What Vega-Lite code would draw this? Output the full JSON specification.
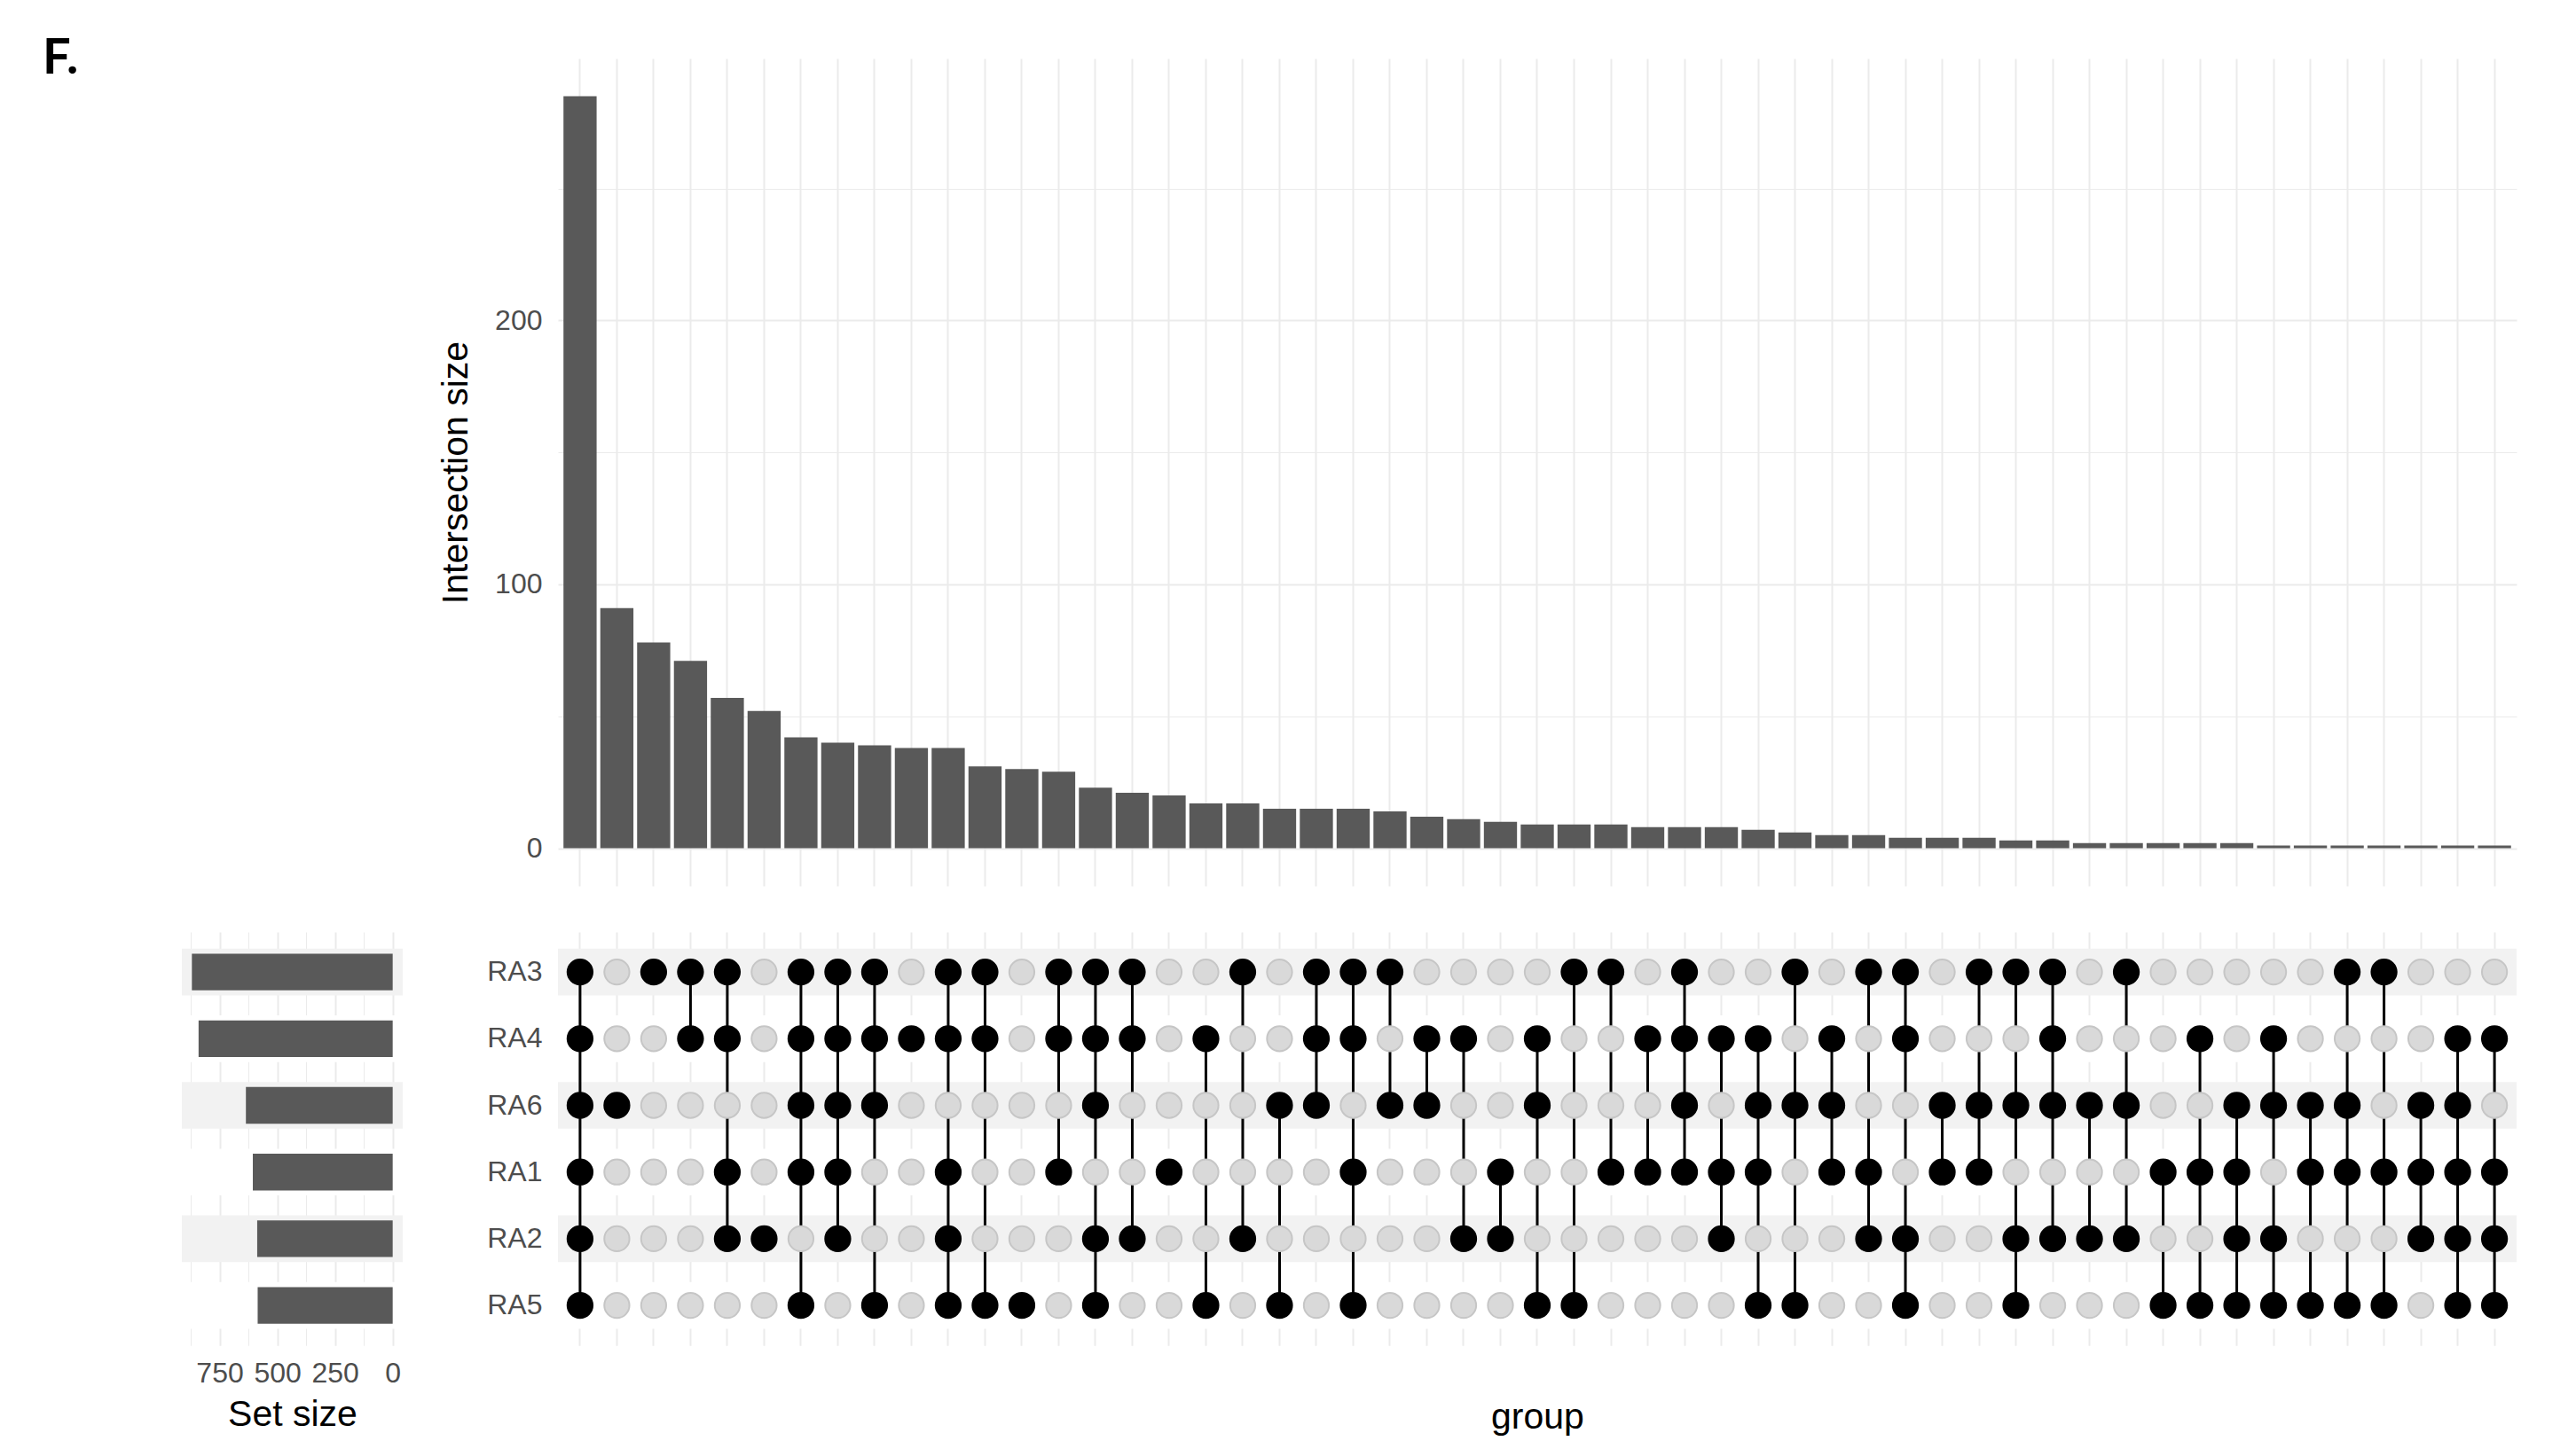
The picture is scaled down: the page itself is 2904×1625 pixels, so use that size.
{
  "$schema": "https://vega.github.io/schema/vega-lite/v6.json",
  "background": "white",
  "padding": {"left": 48, "top": 38, "right": 10, "bottom": 5},
  "config": {
    "view": {"stroke": null},
    "font": "Liberation Sans",
    "axis": {
      "domain": false,
      "ticks": false,
      "labelFont": "Liberation Sans",
      "labelFontSize": 32,
      "labelColor": "#4D4D4D",
      "titleFont": "Liberation Sans",
      "titleFontSize": 41,
      "titleFontWeight": "normal",
      "titleColor": "#000000",
      "gridColor": "#EBEBEB",
      "gridWidth": 2
    }
  },
  "datasets": {
    "inter": [
      {"id": 1, "size": 285, "RA3": 1, "RA4": 1, "RA6": 1, "RA1": 1, "RA2": 1, "RA5": 1},
      {"id": 2, "size": 91, "RA3": 0, "RA4": 0, "RA6": 1, "RA1": 0, "RA2": 0, "RA5": 0},
      {"id": 3, "size": 78, "RA3": 1, "RA4": 0, "RA6": 0, "RA1": 0, "RA2": 0, "RA5": 0},
      {"id": 4, "size": 71, "RA3": 1, "RA4": 1, "RA6": 0, "RA1": 0, "RA2": 0, "RA5": 0},
      {"id": 5, "size": 57, "RA3": 1, "RA4": 1, "RA6": 0, "RA1": 1, "RA2": 1, "RA5": 0},
      {"id": 6, "size": 52, "RA3": 0, "RA4": 0, "RA6": 0, "RA1": 0, "RA2": 1, "RA5": 0},
      {"id": 7, "size": 42, "RA3": 1, "RA4": 1, "RA6": 1, "RA1": 1, "RA2": 0, "RA5": 1},
      {"id": 8, "size": 40, "RA3": 1, "RA4": 1, "RA6": 1, "RA1": 1, "RA2": 1, "RA5": 0},
      {"id": 9, "size": 39, "RA3": 1, "RA4": 1, "RA6": 1, "RA1": 0, "RA2": 0, "RA5": 1},
      {"id": 10, "size": 38, "RA3": 0, "RA4": 1, "RA6": 0, "RA1": 0, "RA2": 0, "RA5": 0},
      {"id": 11, "size": 38, "RA3": 1, "RA4": 1, "RA6": 0, "RA1": 1, "RA2": 1, "RA5": 1},
      {"id": 12, "size": 31, "RA3": 1, "RA4": 1, "RA6": 0, "RA1": 0, "RA2": 0, "RA5": 1},
      {"id": 13, "size": 30, "RA3": 0, "RA4": 0, "RA6": 0, "RA1": 0, "RA2": 0, "RA5": 1},
      {"id": 14, "size": 29, "RA3": 1, "RA4": 1, "RA6": 0, "RA1": 1, "RA2": 0, "RA5": 0},
      {"id": 15, "size": 23, "RA3": 1, "RA4": 1, "RA6": 1, "RA1": 0, "RA2": 1, "RA5": 1},
      {"id": 16, "size": 21, "RA3": 1, "RA4": 1, "RA6": 0, "RA1": 0, "RA2": 1, "RA5": 0},
      {"id": 17, "size": 20, "RA3": 0, "RA4": 0, "RA6": 0, "RA1": 1, "RA2": 0, "RA5": 0},
      {"id": 18, "size": 17, "RA3": 0, "RA4": 1, "RA6": 0, "RA1": 0, "RA2": 0, "RA5": 1},
      {"id": 19, "size": 17, "RA3": 1, "RA4": 0, "RA6": 0, "RA1": 0, "RA2": 1, "RA5": 0},
      {"id": 20, "size": 15, "RA3": 0, "RA4": 0, "RA6": 1, "RA1": 0, "RA2": 0, "RA5": 1},
      {"id": 21, "size": 15, "RA3": 1, "RA4": 1, "RA6": 1, "RA1": 0, "RA2": 0, "RA5": 0},
      {"id": 22, "size": 15, "RA3": 1, "RA4": 1, "RA6": 0, "RA1": 1, "RA2": 0, "RA5": 1},
      {"id": 23, "size": 14, "RA3": 1, "RA4": 0, "RA6": 1, "RA1": 0, "RA2": 0, "RA5": 0},
      {"id": 24, "size": 12, "RA3": 0, "RA4": 1, "RA6": 1, "RA1": 0, "RA2": 0, "RA5": 0},
      {"id": 25, "size": 11, "RA3": 0, "RA4": 1, "RA6": 0, "RA1": 0, "RA2": 1, "RA5": 0},
      {"id": 26, "size": 10, "RA3": 0, "RA4": 0, "RA6": 0, "RA1": 1, "RA2": 1, "RA5": 0},
      {"id": 27, "size": 9, "RA3": 0, "RA4": 1, "RA6": 1, "RA1": 0, "RA2": 0, "RA5": 1},
      {"id": 28, "size": 9, "RA3": 1, "RA4": 0, "RA6": 0, "RA1": 0, "RA2": 0, "RA5": 1},
      {"id": 29, "size": 9, "RA3": 1, "RA4": 0, "RA6": 0, "RA1": 1, "RA2": 0, "RA5": 0},
      {"id": 30, "size": 8, "RA3": 0, "RA4": 1, "RA6": 0, "RA1": 1, "RA2": 0, "RA5": 0},
      {"id": 31, "size": 8, "RA3": 1, "RA4": 1, "RA6": 1, "RA1": 1, "RA2": 0, "RA5": 0},
      {"id": 32, "size": 8, "RA3": 0, "RA4": 1, "RA6": 0, "RA1": 1, "RA2": 1, "RA5": 0},
      {"id": 33, "size": 7, "RA3": 0, "RA4": 1, "RA6": 1, "RA1": 1, "RA2": 0, "RA5": 1},
      {"id": 34, "size": 6, "RA3": 1, "RA4": 0, "RA6": 1, "RA1": 0, "RA2": 0, "RA5": 1},
      {"id": 35, "size": 5, "RA3": 0, "RA4": 1, "RA6": 1, "RA1": 1, "RA2": 0, "RA5": 0},
      {"id": 36, "size": 5, "RA3": 1, "RA4": 0, "RA6": 0, "RA1": 1, "RA2": 1, "RA5": 0},
      {"id": 37, "size": 4, "RA3": 1, "RA4": 1, "RA6": 0, "RA1": 0, "RA2": 1, "RA5": 1},
      {"id": 38, "size": 4, "RA3": 0, "RA4": 0, "RA6": 1, "RA1": 1, "RA2": 0, "RA5": 0},
      {"id": 39, "size": 4, "RA3": 1, "RA4": 0, "RA6": 1, "RA1": 1, "RA2": 0, "RA5": 0},
      {"id": 40, "size": 3, "RA3": 1, "RA4": 0, "RA6": 1, "RA1": 0, "RA2": 1, "RA5": 1},
      {"id": 41, "size": 3, "RA3": 1, "RA4": 1, "RA6": 1, "RA1": 0, "RA2": 1, "RA5": 0},
      {"id": 42, "size": 2, "RA3": 0, "RA4": 0, "RA6": 1, "RA1": 0, "RA2": 1, "RA5": 0},
      {"id": 43, "size": 2, "RA3": 1, "RA4": 0, "RA6": 1, "RA1": 0, "RA2": 1, "RA5": 0},
      {"id": 44, "size": 2, "RA3": 0, "RA4": 0, "RA6": 0, "RA1": 1, "RA2": 0, "RA5": 1},
      {"id": 45, "size": 2, "RA3": 0, "RA4": 1, "RA6": 0, "RA1": 1, "RA2": 0, "RA5": 1},
      {"id": 46, "size": 2, "RA3": 0, "RA4": 0, "RA6": 1, "RA1": 1, "RA2": 1, "RA5": 1},
      {"id": 47, "size": 1, "RA3": 0, "RA4": 1, "RA6": 1, "RA1": 0, "RA2": 1, "RA5": 1},
      {"id": 48, "size": 1, "RA3": 0, "RA4": 0, "RA6": 1, "RA1": 1, "RA2": 0, "RA5": 1},
      {"id": 49, "size": 1, "RA3": 1, "RA4": 0, "RA6": 1, "RA1": 1, "RA2": 0, "RA5": 1},
      {"id": 50, "size": 1, "RA3": 1, "RA4": 0, "RA6": 0, "RA1": 1, "RA2": 0, "RA5": 1},
      {"id": 51, "size": 1, "RA3": 0, "RA4": 0, "RA6": 1, "RA1": 1, "RA2": 1, "RA5": 0},
      {"id": 52, "size": 1, "RA3": 0, "RA4": 1, "RA6": 1, "RA1": 1, "RA2": 1, "RA5": 1},
      {"id": 53, "size": 1, "RA3": 0, "RA4": 1, "RA6": 0, "RA1": 1, "RA2": 1, "RA5": 1}
    ],
    "sets": [
      {"set": "RA3", "size": 870},
      {"set": "RA4", "size": 841},
      {"set": "RA6", "size": 636},
      {"set": "RA1", "size": 606},
      {"set": "RA2", "size": 587},
      {"set": "RA5", "size": 585}
    ]
  },
  "columns": 2,
  "bounds": "flush",
  "align": "each",
  "spacing": {"column": 175, "row": 52},
  "concat": [
    {
      "width": 249,
      "height": 933,
      "title": {
        "text": "F.",
        "anchor": "start",
        "frame": "group",
        "font": "Lato",
        "fontSize": 56,
        "fontWeight": "bold",
        "color": "#000000",
        "baseline": "alphabetic",
        "dx": -157,
        "dy": 56,
        "offset": -17
      },
      "data": {"values": []},
      "mark": {"type": "point", "opacity": 0},
      "encoding": {}
    },
    {
      "width": 2208,
      "height": 933,
      "data": {"name": "inter"},
      "mark": {"type": "bar", "color": "#595959"},
      "encoding": {
        "x": {
          "field": "id",
          "type": "ordinal",
          "scale": {"type": "band", "paddingInner": 0.1, "paddingOuter": 0.15},
          "axis": {"labels": false, "title": null, "grid": true, "bandPosition": 0.5}
        },
        "y": {
          "field": "size",
          "type": "quantitative",
          "scale": {"domain": [-14.25, 299.25], "nice": false, "zero": false},
          "axis": {
            "title": "Intersection size",
            "values": [0, 50, 100, 150, 200, 250],
            "labelExpr": "datum.value % 100 === 0 ? datum.label : ''",
            "gridWidth": {"condition": {"test": "datum.value % 100 === 0", "value": 2}, "value": 1},
            "labelPadding": 18,
            "titlePadding": 22
          }
        },
        "y2": {"datum": 0}
      }
    },
    {
      "width": 249,
      "height": 466.2,
      "data": {"name": "sets"},
      "encoding": {
        "y": {
          "field": "set",
          "type": "nominal",
          "sort": ["RA3", "RA4", "RA6", "RA1", "RA2", "RA5"],
          "scale": {"type": "band", "domain": ["RA3", "RA4", "RA6", "RA1", "RA2", "RA5"], "paddingInner": 0, "paddingOuter": 0.1},
          "axis": null
        }
      },
      "layer": [
        {
          "transform": [{"filter": {"field": "set", "oneOf": ["RA3", "RA6", "RA2"]}}],
          "mark": {"type": "bar", "color": "#F2F2F2", "height": {"band": 0.7}},
          "encoding": {
            "x": {"value": 0},
            "x2": {"value": "width"}
          }
        },
        {
          "transform": [{"filter": {"field": "set", "oneOf": ["RA4", "RA1", "RA5"]}}],
          "mark": {"type": "bar", "color": "#FFFFFF", "height": {"band": 0.7}},
          "encoding": {
            "x": {"value": 0},
            "x2": {"value": "width"}
          }
        },
        {
          "mark": {"type": "bar", "color": "#595959", "height": {"band": 0.55}},
          "encoding": {
            "x": {
              "field": "size",
              "type": "quantitative",
              "scale": {"domain": [-43.5, 913.5], "nice": false, "zero": false, "reverse": true},
              "axis": {
                "title": "Set size",
                "values": [0, 125, 250, 375, 500, 625, 750, 875],
                "labelExpr": "datum.value % 250 === 0 ? datum.label : ''",
                "gridWidth": {"condition": {"test": "datum.value % 250 === 0", "value": 2}, "value": 1},
                "labelPadding": 16,
                "titlePadding": 11
              }
            },
            "x2": {"datum": 0}
          }
        }
      ]
    },
    {
      "width": 2208,
      "height": 466.2,
      "encoding": {
        "y": {
          "field": "set",
          "type": "nominal",
          "sort": ["RA3", "RA4", "RA6", "RA1", "RA2", "RA5"],
          "scale": {"type": "band", "domain": ["RA3", "RA4", "RA6", "RA1", "RA2", "RA5"], "paddingInner": 0, "paddingOuter": 0.1},
          "axis": {"title": null, "grid": false, "labelPadding": 18}
        }
      },
      "layer": [
        {
          "data": {"name": "sets"},
          "transform": [{"filter": {"field": "set", "oneOf": ["RA3", "RA6", "RA2"]}}],
          "mark": {"type": "bar", "color": "#F2F2F2", "height": {"band": 0.7}},
          "encoding": {
            "x": {"value": 0},
            "x2": {"value": "width"}
          }
        },
        {
          "data": {"name": "sets"},
          "transform": [{"filter": {"field": "set", "oneOf": ["RA4", "RA1", "RA5"]}}],
          "mark": {"type": "bar", "color": "#FFFFFF", "height": {"band": 0.7}},
          "encoding": {
            "x": {"value": 0},
            "x2": {"value": "width"}
          }
        },
        {
          "data": {"name": "inter"},
          "transform": [
            {"fold": ["RA3", "RA4", "RA6", "RA1", "RA2", "RA5"], "as": ["set", "member"]},
            {"filter": "datum.member == 1"}
          ],
          "mark": {"type": "line", "color": "#000000", "strokeWidth": 3},
          "encoding": {
            "x": {
              "field": "id",
              "type": "ordinal",
              "scale": {"type": "band", "paddingInner": 0.1, "paddingOuter": 0.15},
              "axis": {"labels": false, "title": "group", "grid": true, "bandPosition": 0.5, "titlePadding": 61}
            },
            "detail": {"field": "id", "type": "ordinal"}
          }
        },
        {
          "data": {"name": "inter"},
          "transform": [
            {"fold": ["RA3", "RA4", "RA6", "RA1", "RA2", "RA5"], "as": ["set", "member"]}
          ],
          "mark": {"type": "circle", "size": 800, "opacity": 1, "strokeWidth": 2},
          "encoding": {
            "x": {"field": "id", "type": "ordinal"},
            "color": {
              "condition": {"test": "datum.member == 1", "value": "#000000"},
              "value": "#D9D9D9"
            },
            "stroke": {
              "condition": {"test": "datum.member == 1", "value": "#000000"},
              "value": "#C6C6C6"
            }
          }
        }
      ]
    }
  ]
}
